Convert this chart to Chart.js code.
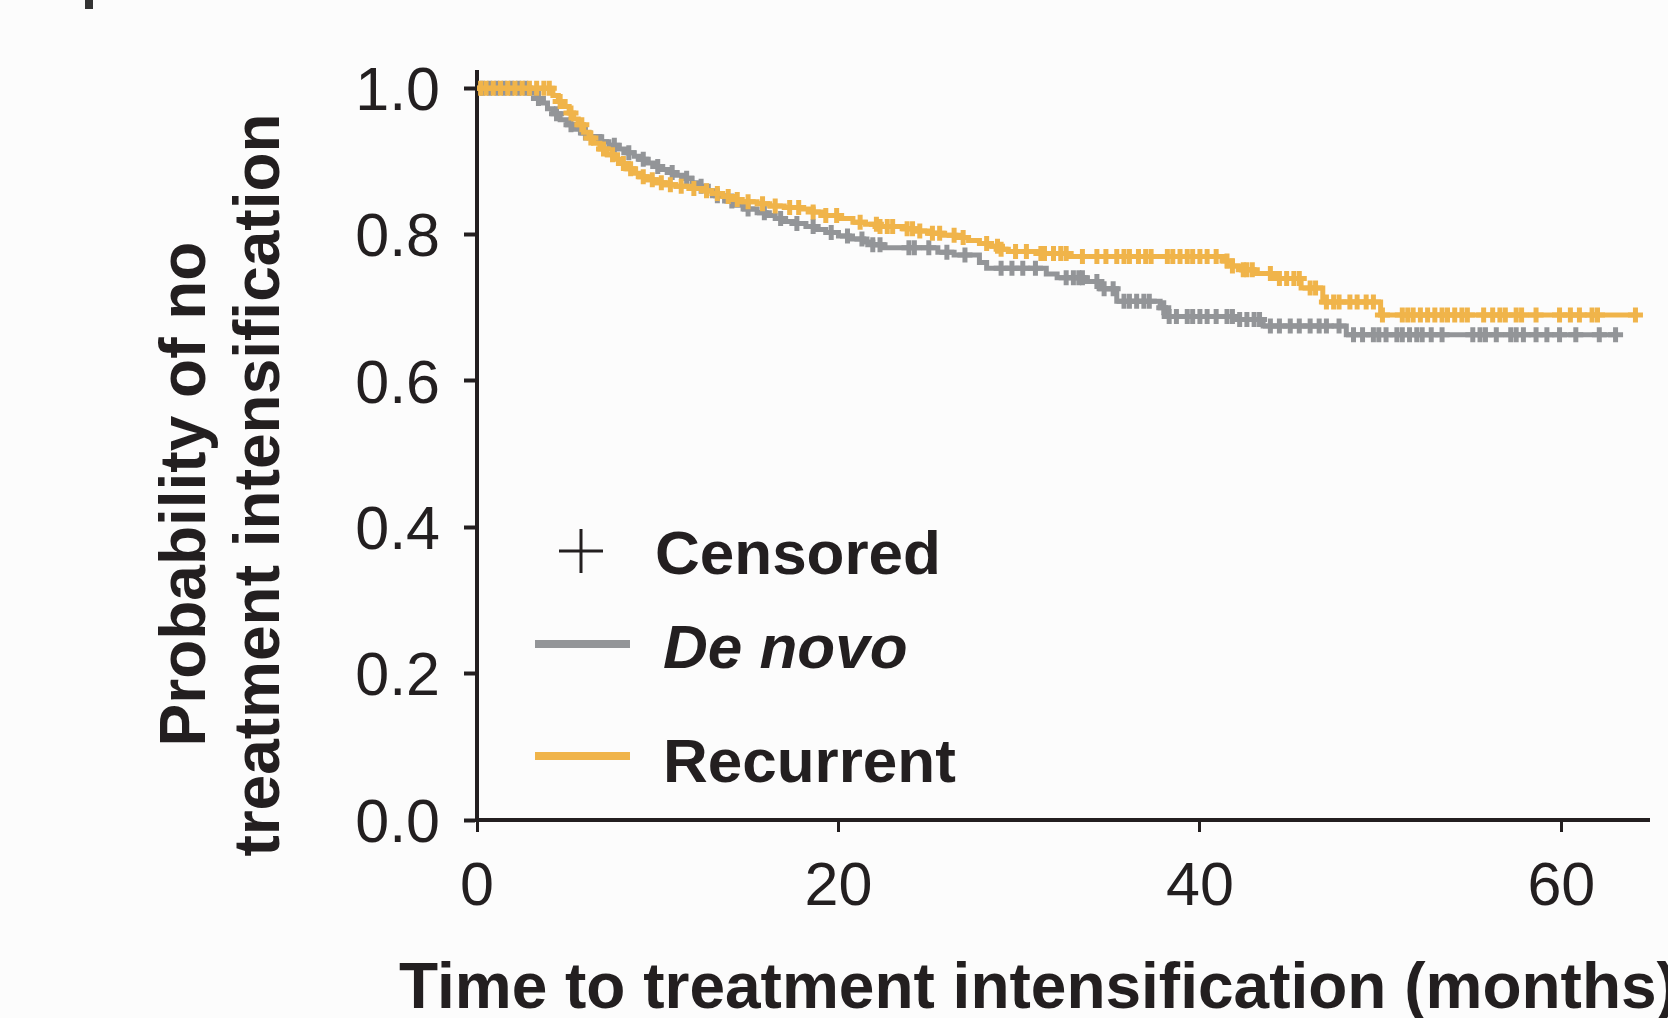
<!DOCTYPE html>
<html>
<head>
<meta charset="utf-8">
<title>Time to treatment intensification</title>
<script src="https://cdn.jsdelivr.net/npm/chart.js@4.4.1/dist/chart.umd.min.js"></script>
<style>
    html, body { margin: 0; padding: 0; background: #fcfcfc; overflow: hidden; }
    #wrap { width: 1668px; height: 1018px; position: relative; }
</style>
</head>
<body>
<div id="wrap"><canvas id="kmChart" width="1668" height="1018"></canvas></div>
<script>
/* =====================================
   Data
===================================== */
const xTicks = [0, 20, 40, 60];
const yTicks = [0, 0.2, 0.4, 0.6, 0.8, 1.0];

// De novo - step times (months) and survival after each step
const deNovoTimes = [0, 2.95, 3.3, 3.6, 3.9, 4.2, 4.6, 5.0, 5.4, 5.8,
    6.2, 6.8, 7.3, 7.8, 8.3, 8.7, 9.0, 9.4, 9.8, 10.2,
    10.6, 11.0, 11.4, 11.9, 12.3, 12.8, 13.2, 13.7, 14.3, 14.8,
    15.5, 16.0, 16.5, 17.0, 17.5, 18.2, 18.8, 19.3, 20.0, 20.6,
    21.4, 21.9, 22.5, 25.5, 26.4, 27.8, 28.2, 31.5, 32.1, 33.7,
    34.5, 35.4, 37.8, 38.1, 42.0, 43.5, 48.1, 63.0];
const deNovoSurv = [1.0, 0.993, 0.986, 0.98, 0.972, 0.965, 0.957, 0.95, 0.944, 0.939,
    0.934, 0.927, 0.922, 0.917, 0.912, 0.907, 0.903, 0.898, 0.893, 0.889,
    0.885, 0.881, 0.877, 0.871, 0.866, 0.860, 0.853, 0.846, 0.840, 0.835,
    0.830, 0.826, 0.822, 0.818, 0.815, 0.811, 0.807, 0.803, 0.798, 0.794,
    0.790, 0.786, 0.782, 0.776, 0.772, 0.762, 0.754, 0.746, 0.741, 0.736,
    0.726, 0.709, 0.700, 0.688, 0.684, 0.675, 0.663, 0.663];
const deNovoCensored = [0.3, 0.7, 1.1, 1.5, 1.9, 2.3, 2.7, 3.4, 4.4, 5.2,
    6.0, 6.9, 7.6, 8.4, 9.2, 10.0, 10.8, 11.6, 12.4, 13.3,
    14.1, 15.0, 15.9, 16.8, 17.7, 18.6, 19.6, 20.5, 21.3, 21.9,
    22.3, 23.9, 24.2, 25.0, 26.0, 27.0, 29.0, 29.6, 30.2, 30.9,
    32.6, 33.0, 33.3, 33.5, 34.3, 34.7, 35.2, 35.8, 36.1, 36.5,
    36.9, 37.2, 38.0, 38.3, 38.7, 39.3, 39.6, 40.0, 40.4, 40.9,
    41.5, 41.8, 42.2, 42.6, 43.0, 43.3, 43.9, 44.4, 45.0, 45.5,
    46.1, 46.6, 47.0, 47.7, 48.5, 49.0, 49.6, 49.9, 50.3, 50.9,
    51.2, 51.6, 52.0, 52.3, 52.8, 53.4, 55.1, 55.5, 55.8, 56.4,
    57.2, 57.5, 57.9, 58.6, 59.2, 59.9, 60.8, 62.1, 63.0];

// Recurrent
const recurrentTimes = [0, 4.2, 4.5, 4.8, 5.1, 5.35, 5.6, 5.9, 6.2, 6.45,
    6.8, 7.2, 7.6, 7.95, 8.3, 8.7, 9.0, 9.4, 9.9, 10.4,
    11.0, 11.8, 12.5, 13.0, 13.6, 14.1, 14.6, 15.5, 16.2, 17.0,
    18.0, 18.6, 19.2, 20.0, 20.8, 21.5, 22.2, 23.6, 24.3, 25.0,
    25.8, 26.5, 27.2, 27.8, 28.4, 28.9, 29.4, 31.0, 32.8, 41.3,
    41.8, 42.3, 43.0, 44.1, 45.6, 46.8, 50.0, 64.1];
const recurrentSurv = [1.0, 0.99, 0.982, 0.975, 0.966, 0.958, 0.95, 0.94, 0.932, 0.925,
    0.917, 0.909, 0.903, 0.897, 0.89, 0.884, 0.879, 0.875, 0.871, 0.868,
    0.866, 0.863, 0.86, 0.856, 0.852, 0.848, 0.845, 0.842, 0.839, 0.837,
    0.835, 0.831, 0.826, 0.822, 0.817, 0.814, 0.811, 0.808, 0.805, 0.802,
    0.799, 0.796, 0.792, 0.788, 0.784, 0.780, 0.777, 0.774, 0.770, 0.764,
    0.757, 0.752, 0.747, 0.740, 0.727, 0.708, 0.690, 0.690];
const recurrentCensored = [0.2, 0.5, 0.9, 1.3, 1.7, 2.1, 2.5, 2.9, 3.3, 3.7,
    4.0, 4.6, 5.2, 5.8, 6.3, 7.0, 7.5, 8.1, 8.5, 9.2,
    9.7, 10.2, 10.7, 11.3, 12.0, 12.7, 13.3, 13.9, 14.4, 15.0,
    15.8, 16.5, 17.3, 17.8, 18.6, 19.3, 19.9, 21.2, 22.1, 22.3,
    22.7, 23.0, 23.8, 24.1, 24.5, 25.2, 25.6, 26.4, 26.9, 28.2,
    28.8, 29.0, 29.8, 30.4, 31.2, 31.4, 31.9, 32.3, 32.6, 33.5,
    34.3, 34.8, 35.4, 35.8, 36.1, 36.6, 37.0, 37.3, 38.2, 38.5,
    38.9, 39.3, 39.6, 40.0, 40.4, 40.9, 41.5, 41.8, 42.4, 42.6,
    42.9, 43.9, 44.4, 44.8, 45.2, 45.5, 46.1, 46.4, 47.0, 47.4,
    47.7, 48.3, 48.7, 49.2, 49.6, 50.1, 51.2, 51.5, 51.8, 52.2,
    52.6, 53.0, 53.4, 53.7, 54.1, 54.5, 54.8, 55.7, 56.2, 56.6,
    56.9, 57.5, 57.8, 58.6, 59.9, 60.5, 61.0, 61.7, 62.0, 64.1];


/* =====================================
   Styles
===================================== */
const ink = "#231f20";
const grayColor = "#939598";
const orangeColor = "#f0b44a";
const fontFamily = "'Liberation Sans', Arial, Helvetica, sans-serif";


/* =====================================
   Helpers
===================================== */
function toPoints(times, surv) {
    return times.map((t, i) => ({ x: t, y: surv[i] }));
}

// survival value of the step curve at time t
function survAt(times, surv, t) {
    let value = surv[0];
    for (let i = 0; i < times.length; i++) {
        if (times[i] <= t) value = surv[i];
    }
    return value;
}

function censorPoints(censored, times, surv) {
    return censored.map(t => ({ x: t, y: survAt(times, surv, t) }));
}


/* =====================================
   Axis titles + legend (drawn on canvas)
===================================== */
const textPlugin = {
    id: "kmText",
    afterDraw(chart) {
        const c = chart.ctx;
        c.save();
        c.fillStyle = ink;
        c.textBaseline = "alphabetic";

        // fragment of the panel letter at the top edge
        c.fillStyle = "#333333";
        c.fillRect(85, 0, 8, 9);
        c.fillStyle = ink;

        // x title
        c.font = "bold 64px " + fontFamily;
        c.textAlign = "left";
        c.fillText("Time to treatment intensification (months)", 399, 1008);

        // y title, two lines
        c.textAlign = "center";
        c.save();
        c.translate(205, 494);
        c.rotate(-Math.PI / 2);
        c.fillText("Probability of no", 0, 0);
        c.restore();
        c.save();
        c.translate(279, 485);
        c.rotate(-Math.PI / 2);
        c.fillText("treatment intensification", 0, 0);
        c.restore();

        // legend
        c.textAlign = "left";
        c.strokeStyle = ink;
        c.lineWidth = 3;
        c.beginPath();
        c.moveTo(559, 551); c.lineTo(603, 551);
        c.moveTo(581, 529); c.lineTo(581, 573);
        c.stroke();
        c.font = "bold 62px " + fontFamily;
        c.fillText("Censored", 655, 574);

        c.lineWidth = 8;
        c.strokeStyle = grayColor;
        c.beginPath(); c.moveTo(535, 644); c.lineTo(630, 644); c.stroke();
        c.font = "italic bold 62px " + fontFamily;
        c.fillText("De novo", 663, 668);

        c.strokeStyle = orangeColor;
        c.beginPath(); c.moveTo(535, 756); c.lineTo(630, 756); c.stroke();
        c.font = "bold 62px " + fontFamily;
        c.fillText("Recurrent", 663, 782);

        c.restore();
    }
};


/* =====================================
   Chart
===================================== */
const ctx = document.getElementById("kmChart");

new Chart(ctx, {
    type: "line",
    data: {
        datasets: [
            {
                label: "De novo",
                data: toPoints(deNovoTimes, deNovoSurv),
                borderColor: grayColor,
                borderWidth: 5,
                stepped: "before",
                pointRadius: 0,
                fill: false,
                order: 4
            },
            {
                label: "De novo censored",
                type: "scatter",
                data: censorPoints(deNovoCensored, deNovoTimes, deNovoSurv),
                pointStyle: "cross",
                pointRadius: 7.5,
                pointHoverRadius: 7.5,
                pointBorderWidth: 5,
                borderColor: grayColor,
                backgroundColor: grayColor,
                order: 3
            },
            {
                label: "Recurrent",
                data: toPoints(recurrentTimes, recurrentSurv),
                borderColor: orangeColor,
                borderWidth: 5,
                stepped: "before",
                pointRadius: 0,
                fill: false,
                order: 2
            },
            {
                label: "Recurrent censored",
                type: "scatter",
                data: censorPoints(recurrentCensored, recurrentTimes, recurrentSurv),
                pointStyle: "cross",
                pointRadius: 7.5,
                pointHoverRadius: 7.5,
                pointBorderWidth: 5,
                borderColor: orangeColor,
                backgroundColor: orangeColor,
                order: 1
            }
        ]
    },
    options: {
        responsive: false,
        animation: false,
        devicePixelRatio: 1,
        events: [],
        layout: { padding: { top: 72, right: 19, bottom: 0, left: 0 } },
        plugins: {
            legend: { display: false },
            tooltip: { enabled: false }
        },
        scales: {
            x: {
                type: "linear",
                min: 0,
                max: 64.85,
                afterBuildTicks: scale => { scale.ticks = xTicks.map(v => ({ value: v })); },
                afterFit: scale => { scale.height = 198; },
                grid: { drawOnChartArea: false, drawTicks: true, tickLength: 12, tickWidth: 3, tickColor: ink },
                border: { display: true, width: 4, color: ink },
                ticks: {
                    color: ink,
                    font: { family: fontFamily, size: 61 },
                    padding: 20,
                    maxRotation: 0,
                    callback: v => String(v)
                }
            },
            y: {
                type: "linear",
                min: 0,
                max: 1.0222,
                afterBuildTicks: scale => { scale.ticks = yTicks.map(v => ({ value: v })); },
                afterFit: scale => { scale.width = 477; },
                grid: { drawOnChartArea: false, drawTicks: true, tickLength: 13, tickWidth: 4, tickColor: ink },
                border: { display: true, width: 4, color: ink },
                ticks: {
                    color: ink,
                    font: { family: fontFamily, size: 61 },
                    padding: 24,
                    labelOffset: 5,
                    callback: v => v.toFixed(1)
                }
            }
        }
    },
    plugins: [textPlugin]
});
</script>
</body>
</html>
